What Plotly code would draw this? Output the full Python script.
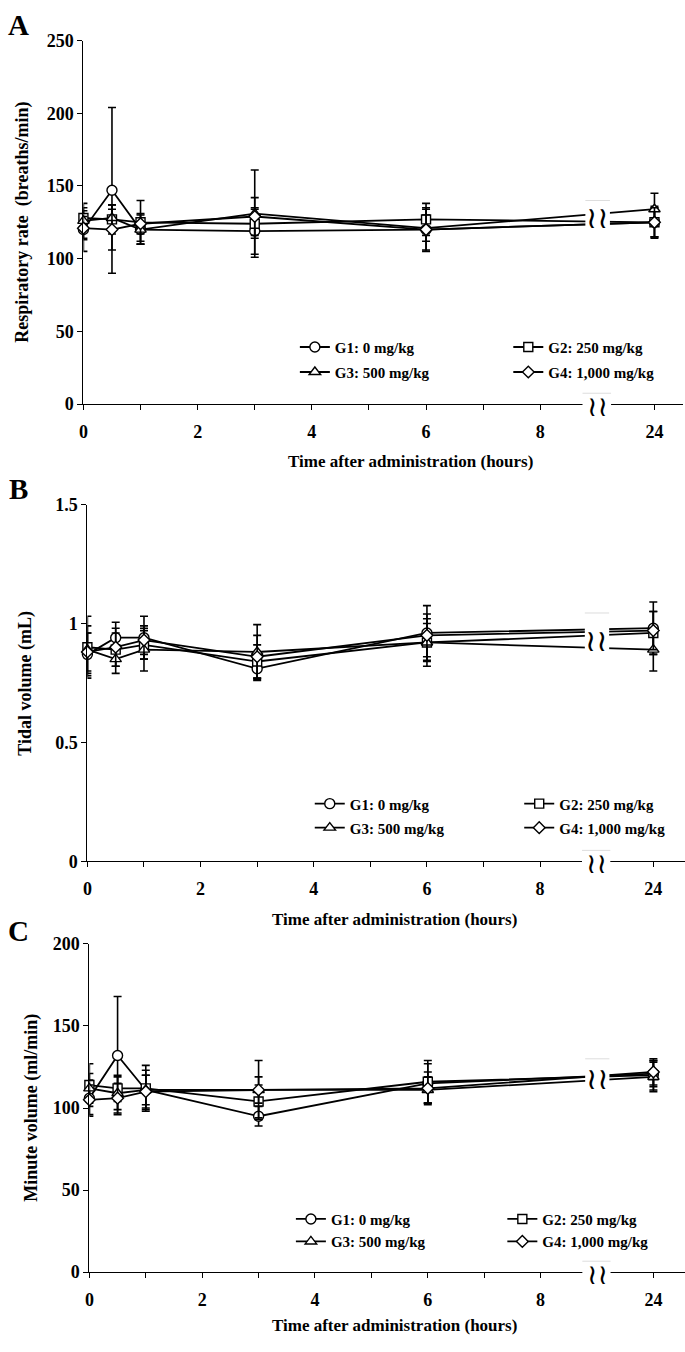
import plotly.graph_objects as go

# ---------------- data ----------------
time_h = [0, 0.5, 1, 3, 6, 24]
x_tick_labels = ["0", "", "2", "", "4", "", "6", "", "8", "24"]
groups = ["G1: 0 mg/kg", "G2: 250 mg/kg", "G3: 500 mg/kg", "G4: 1,000 mg/kg"]
symbols = ["circle", "square", "triangle-up", "diamond"]

# A: respiratory rate (breaths/min), mean and SD
rr_g1 = [120, 147, 120, 119, 120, 125]
rr_g2 = [128, 127, 125, 124, 127, 125]
rr_g3 = [126, 128, 120, 131, 121, 134]
rr_g4 = [121, 120, 124, 129, 120, 125]
rr_sd_g1 = [15, 57, 8, 16, 15, 10]
rr_sd_g2 = [5, 10, 15, 10, 11, 11]
rr_sd_g3 = [12, 9, 10, 30, 9, 11]
rr_sd_g4 = [8, 14, 7, 13, 14, 10]

# B: tidal volume (mL)
tv_g1 = [0.87, 0.94, 0.94, 0.81, 0.96, 0.98]
tv_g2 = [0.90, 0.89, 0.91, 0.84, 0.92, 0.96]
tv_g3 = [0.89, 0.85, 0.89, 0.88, 0.92, 0.89]
tv_g4 = [0.88, 0.90, 0.93, 0.86, 0.95, 0.97]
tv_sd_g1 = [0.09, 0.065, 0.09, 0.05, 0.115, 0.11]
tv_sd_g2 = [0.13, 0.07, 0.06, 0.07, 0.10, 0.09]
tv_sd_g3 = [0.10, 0.06, 0.09, 0.115, 0.08, 0.09]
tv_sd_g4 = [0.08, 0.08, 0.06, 0.09, 0.09, 0.08]

# C: minute volume (ml/min)
mv_g1 = [106, 132, 111, 95, 115, 121]
mv_g2 = [114, 112, 112, 104, 116, 120]
mv_g3 = [112, 109, 111, 111, 111, 119]
mv_g4 = [105, 106, 110, 111, 112, 122]
mv_sd_g1 = [11, 36, 9, 6, 12, 8]
mv_sd_g2 = [13, 8, 14, 10, 13, 9]
mv_sd_g3 = [9, 10, 12, 18, 8, 9]
mv_sd_g4 = [9, 9, 10, 8, 10, 8]

# ---------------- layout helpers ----------------
W, H = 685, 1352
FONT = "Liberation Serif"


def px(p):
    return p / W


def py(p):
    return 1 - p / H


def xpos(t):
    # broken time axis: 24 h is placed just after the break
    return t if t <= 8 else 10


BREAK_X = 9.0

panels = [
    dict(key="A", xa="x", ya="y", xd=[px(79), px(683)], yd=[py(400), py(31)],
         xr=[0, 10.5], yr=[0, 250], dtick=50,
         ytitle="Respiratory rate  (breaths/min)", ytitle_x=17.5,
         xtitle_x=408, xtitle_y=458, letter_y=15,
         series=[rr_g1, rr_g2, rr_g3, rr_g4],
         sds=[rr_sd_g1, rr_sd_g2, rr_sd_g3, rr_sd_g4],
         legs=("legend", "legend2"), legx=(292, 507), legy=355, gap=2.5,
         brk=(112, 140), sq=128),
    dict(key="B", xa="x2", ya="y2", xd=[px(83), 1.0], yd=[py(864), py(502)],
         xr=[0, 10.56], yr=[0, 1.5], dtick=0.5,
         ytitle="Tidal volume (mL)", ytitle_x=21,
         xtitle_x=392, xtitle_y=923, letter_y=486,
         series=[tv_g1, tv_g2, tv_g3, tv_g4],
         sds=[tv_sd_g1, tv_sd_g2, tv_sd_g3, tv_sd_g4],
         legs=("legend3", "legend4"), legx=(307, 518), legy=818, gap=1.5,
         brk=(0.86, 1.044), sq=0.93),
    dict(key="C", xa="x3", ya="y3", xd=[px(85), 1.0], yd=[py(1281), py(948)],
         xr=[0, 10.56], yr=[0, 200], dtick=50,
         ytitle="Minute volume (ml/min)", ytitle_x=26,
         xtitle_x=392, xtitle_y=1335, letter_y=935,
         series=[mv_g1, mv_g2, mv_g3, mv_g4],
         sds=[mv_sd_g1, mv_sd_g2, mv_sd_g3, mv_sd_g4],
         legs=("legend5", "legend6"), legx=(288, 501), legy=1238.5, gap=0,
         brk=(106, 130), sq=118),
]

marker_sizes = [10, 9, 10, 9]

fig = go.Figure()
layout = dict(
    width=W, height=H, margin=dict(l=0, r=0, t=0, b=0),
    paper_bgcolor="white", plot_bgcolor="white", showlegend=True,
    font=dict(family=FONT, color="black", size=15, weight="bold"),
)
annotations = []
shapes = []

for p in panels:
    xs = [xpos(t) for t in time_h]
    for i in range(4):
        fig.add_trace(go.Scatter(
            x=xs, y=p["series"][i], name=groups[i],
            mode="lines+markers",
            line=dict(color="black", width=1.8),
            marker=dict(symbol=symbols[i], size=marker_sizes[i], color="white",
                        line=dict(color="black", width=1.4)),
            error_y=dict(type="data", array=p["sds"][i], color="black",
                         thickness=1.6, width=4),
            xaxis=p["xa"], yaxis=p["ya"], cliponaxis=False,
            legend=p["legs"][0] if i in (0, 2) else p["legs"][1],
            legendgroup=f"{p['key']}{i}",
        ))

    xname = "xaxis" if p["xa"] == "x" else "xaxis" + p["xa"][1:]
    yname = "yaxis" if p["ya"] == "y" else "yaxis" + p["ya"][1:]
    layout[xname] = dict(
        domain=p["xd"], anchor=p["ya"], range=p["xr"],
        tickmode="array", tickvals=[0, 1, 2, 3, 4, 5, 6, 7, 8, 10],
        ticktext=x_tick_labels, ticks="outside", ticklen=5, tickwidth=1,
        tickcolor="black", showline=True, linecolor="black", linewidth=1,
        showgrid=False, zeroline=False, ticklabelstandoff=6,
        tickfont=dict(family=FONT, size=18, color="black", weight="bold"),
    )
    layout[yname] = dict(
        domain=p["yd"], anchor=p["xa"], range=p["yr"], dtick=p["dtick"],
        tick0=0, ticks="outside", ticklen=5, tickwidth=1, tickcolor="black",
        showline=True, linecolor="black", linewidth=1, showgrid=False,
        zeroline=False,
        tickfont=dict(family=FONT, size=18, color="black", weight="bold"),
    )
    for k, lg in enumerate(p["legs"]):
        layout[lg] = dict(
            x=px(p["legx"][k]), xanchor="left", y=py(p["legy"]), yanchor="middle",
            orientation="v", bgcolor="rgba(0,0,0,0)", borderwidth=0,
            traceorder="grouped", tracegroupgap=p["gap"],
            font=dict(family=FONT, size=15, color="black", weight="bold"),
        )

    # panel letter
    annotations.append(dict(text=p["key"], xref="paper", yref="paper",
                            x=px(14), y=py(p["letter_y"]), xanchor="center",
                            yanchor="middle", showarrow=False,
                            font=dict(family=FONT, size=29, weight="bold")))
    # y title
    annotations.append(dict(text=p["ytitle"], xref="paper", yref="paper",
                            x=px(p["ytitle_x"]), y=(p["yd"][0] + p["yd"][1]) / 2,
                            xanchor="center", yanchor="middle", textangle=-90,
                            showarrow=False,
                            font=dict(family=FONT, size=18, weight="bold")))
    # x title
    annotations.append(dict(text="Time after administration (hours)",
                            xref="paper", yref="paper",
                            x=px(p["xtitle_x"]), y=py(p["xtitle_y"]),
                            xanchor="center", yanchor="middle", showarrow=False,
                            font=dict(family=FONT, size=17, weight="bold")))

    # axis break on data lines
    shapes.append(dict(type="rect", xref=p["xa"], yref=p["ya"],
                       x0=BREAK_X - 0.21, x1=BREAK_X + 0.22,
                       y0=p["brk"][0], y1=p["brk"][1],
                       fillcolor="white", line=dict(width=0), layer="above"))
    shapes.append(dict(type="line", xref=p["xa"], yref=p["ya"],
                       x0=BREAK_X - 0.21, x1=BREAK_X + 0.22,
                       y0=p["brk"][1], y1=p["brk"][1],
                       line=dict(color="#dddddd", width=1), layer="above"))
    annotations.append(dict(text="≀≀", xref=p["xa"], yref=p["ya"],
                            x=BREAK_X, y=p["sq"], showarrow=False,
                            xanchor="center", yanchor="middle",
                            font=dict(family="DejaVu Sans", size=30, weight="normal")))
    # axis break on x axis line
    ybot = p["yd"][0]
    shapes.append(dict(type="rect", xref=p["xa"], yref="paper",
                       x0=BREAK_X - 0.26, x1=BREAK_X + 0.24,
                       y0=ybot - 4 / H, y1=ybot + 11 / H,
                       fillcolor="white", line=dict(width=0), layer="above"))
    shapes.append(dict(type="line", xref=p["xa"], yref="paper",
                       x0=BREAK_X - 0.26, x1=BREAK_X + 0.24,
                       y0=ybot + 11 / H, y1=ybot + 11 / H,
                       line=dict(color="#dddddd", width=1), layer="above"))
    annotations.append(dict(text="≀≀", xref=p["xa"], yref="paper",
                            x=BREAK_X, y=ybot - 2 / H, showarrow=False,
                            xanchor="center", yanchor="middle",
                            font=dict(family="DejaVu Sans", size=28, weight="normal")))

layout["annotations"] = annotations
layout["shapes"] = shapes
fig.update_layout(**layout)
fig.write_html("out.html",
               config={"displayModeBar": False, "staticPlot": True},
               post_script="document.body.style.margin='0px';document.body.style.padding='0px';")
